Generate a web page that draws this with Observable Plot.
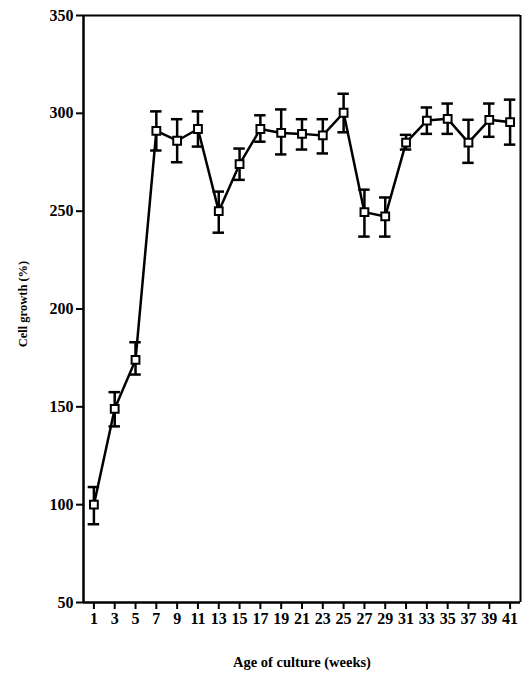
<!DOCTYPE html>
<html>
<head>
<meta charset="utf-8">
<script src="https://cdn.jsdelivr.net/npm/d3@7"></script>
<script src="https://cdn.jsdelivr.net/npm/@observablehq/plot@0.6"></script>
<style>
  html, body { margin: 0; padding: 0; background: #fff; }
  svg { font-family: "Liberation Serif", "DejaVu Serif", serif; }
</style>
</head>
<body>
<div id="chart"></div>
<script>
const weeks = [1, 3, 5, 7, 9, 11, 13, 15, 17, 19, 21, 23, 25, 27, 29, 31, 33, 35, 37, 39, 41];
const growth = [100, 149, 174, 291, 286, 292, 250, 274, 292, 290, 289.5, 288.7, 300.3, 249.5, 247.3, 285, 296.3, 297.2, 285, 296.7, 295.5];
const errUpper = [109, 157.5, 183, 301, 297, 301, 260, 282, 299, 302, 297, 297, 310, 261, 257, 289, 303, 305, 296.7, 305, 307];
const errLower = [90, 140, 166.5, 281, 275, 283, 239, 266, 285.5, 279, 281.5, 279.5, 290.3, 237, 237, 281.5, 289.5, 289.5, 274.7, 288, 284];
const yTicks = [50, 100, 150, 200, 250, 300, 350];
const xTicks = weeks;
const xLabel = "Age of culture (weeks)";
const yLabel = "Cell growth (%)";

const data = weeks.map((w, i) => ({week: w, growth: growth[i], hi: errUpper[i], lo: errLower[i]}));
const capHalf = 0.55; // half cap width in weeks

const chart = Plot.plot({
  width: 524,
  height: 676,
  marginLeft: 83,
  marginRight: 4,
  marginTop: 15,
  marginBottom: 74,
  style: {fontFamily: "'Liberation Serif', serif", fontWeight: "bold", color: "#000", background: "#fff"},
  x: {domain: [0, 42], label: null},
  y: {domain: [50, 350], label: null},
  marks: [
    Plot.ruleX([0], {stroke: "#000", strokeWidth: 2.5}),
    Plot.ruleY([50], {stroke: "#000", strokeWidth: 2.5}),
    Plot.ruleY([350], {stroke: "#000", strokeWidth: 2}),
    Plot.ruleX([42], {stroke: "#000", strokeWidth: 2}),
    Plot.axisX({ticks: xTicks, tickSize: 7, tickPadding: 3, fontSize: 16, fontWeight: "bold", strokeWidth: 2, label: null}),
    Plot.axisY({ticks: yTicks, tickSize: 7, tickPadding: 3, fontSize: 16, fontWeight: "bold", strokeWidth: 2, label: null}),
    Plot.ruleX(data, {x: "week", y1: "lo", y2: "hi", stroke: "#000", strokeWidth: 2.5}),
    Plot.ruleY(data, {y: "hi", x1: d => d.week - capHalf, x2: d => d.week + capHalf, stroke: "#000", strokeWidth: 2.5}),
    Plot.ruleY(data, {y: "lo", x1: d => d.week - capHalf, x2: d => d.week + capHalf, stroke: "#000", strokeWidth: 2.5}),
    Plot.line(data, {x: "week", y: "growth", stroke: "#000", strokeWidth: 2.5}),
    Plot.dot(data, {x: "week", y: "growth", symbol: "square", r: 4.4, fill: "#fff", stroke: "#000", strokeWidth: 2}),
    Plot.text([xLabel], {frameAnchor: "bottom", dy: 64, fontSize: 14.5, fontWeight: "bold", fill: "#000"}),
    Plot.text([yLabel], {frameAnchor: "left", textAnchor: "middle", dx: -61, dy: -5, rotate: -90, fontSize: 12.5, fontWeight: "bold", fill: "#000"})
  ]
});

document.getElementById("chart").appendChild(chart);
</script>
</body>
</html>
